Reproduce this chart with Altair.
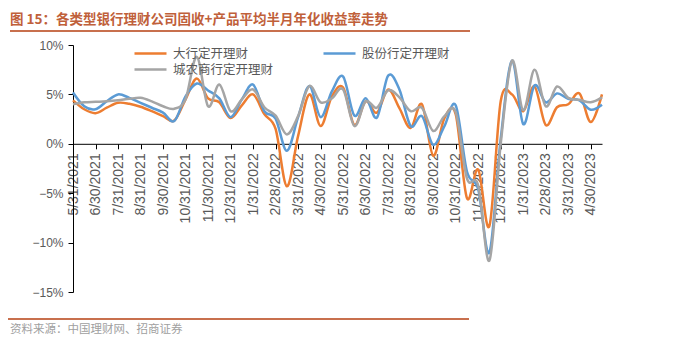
import json
import altair as alt
import pandas as pd

# ---------------- data ----------------
date_labels = [
    "5/31/2021", "6/30/2021", "7/31/2021", "8/31/2021", "9/30/2021", "10/31/2021",
    "11/30/2021", "12/31/2021", "1/31/2022", "2/28/2022", "3/31/2022", "4/30/2022",
    "5/31/2022", "6/30/2022", "7/31/2022", "8/31/2022", "9/30/2022", "10/31/2022",
    "11/30/2022", "12/31/2022", "1/31/2023", "2/28/2023", "3/31/2023", "4/30/2023",
]
series_names = ["大行定开理财", "股份行定开理财", "城农商行定开理财"]
series_colors = ["#ED7D31", "#5B9BD5", "#A5A5A5"]

# semi-monthly observations, % (first point = 5/31/2021)
big_banks = [
    4.4, 3.5, 3.1, 3.65, 4.15, 4.05, 3.75, 3.3, 2.8, 2.35,
    4.5, 6.6, 4.6, 4.2, 2.6, 3.9, 5.0, 3.0, 1.5, -4.3,
    0.8, 5.0, 1.8, 4.8, 5.7, 1.9, 4.3, 3.15, 5.5, 3.6,
    1.6, 4.0, -1.2, 2.6, 3.0, -5.5, -2.6, -8.3, 4.3, 5.0,
    3.3, 5.8, 1.9, 3.7, 4.0, 5.1, 2.2, 5.0,
]
joint_stock = [
    5.2, 3.8, 3.5, 4.3, 5.0, 4.65, 4.15, 3.65, 3.15, 2.3,
    4.8, 6.1, 5.4, 4.6, 2.7, 4.5, 6.0, 3.3, 2.55, -0.7,
    2.7, 5.85, 2.7, 5.3, 6.8, 2.85, 4.6, 2.65, 6.9, 5.5,
    1.8, 2.8, -0.1, 1.8, 3.9, -2.8, -4.6, -11.0, 0.5, 8.4,
    2.0, 5.9, 4.2, 5.1, 4.55, 4.4, 3.45, 3.95,
]
city_rural = [
    4.0, 4.2, 4.25, 4.3, 4.4, 4.55, 4.65, 4.3, 3.8, 3.55,
    4.5, 8.8, 3.8, 6.0, 3.3, 4.5, 5.5, 3.7, 2.85, 0.95,
    2.8, 5.85, 4.2, 4.6, 5.5, 1.8, 4.3, 3.65, 5.4, 4.7,
    3.3, 3.65, 1.3, 2.8, 3.2, -3.5, -4.2, -11.8, 0.0, 8.4,
    3.4, 7.5, 3.8, 5.8, 4.65, 4.45, 4.2, 4.7,
]
y_ticks = [-15, -10, -5, 0, 5, 10]

title_text = "图 15：各类型银行理财公司固收+产品平均半月年化收益率走势"
source_text = "资料来源：中国理财网、招商证券"

# ---------------- table ----------------
rows = []
for name, vals in zip(series_names, [big_banks, joint_stock, city_rural]):
    for i, v in enumerate(vals):
        rows.append({"idx": i, "series": name, "value": v})
df = pd.DataFrame(rows)

n_points = len(big_banks)
PLOT_W, PLOT_H = 529, 247
y_min, y_max = -15, 10
zero_from_bottom = PLOT_H * (0 - y_min) / (y_max - y_min)

label_array = json.dumps(date_labels, ensure_ascii=False)

AXIS_FONT = "Liberation Sans"
CJK_FONT = "Noto Sans CJK SC"
TEXT_GRAY = "#595959"
RED = "#C0603A"

lines = alt.Chart(df).mark_line(
    interpolate="cardinal", tension=0, strokeWidth=2.5
).encode(
    x=alt.X(
        "idx:Q",
        scale=alt.Scale(domain=[0, n_points - 1], nice=False, zero=False),
        axis=alt.Axis(
            values=list(range(0, 2 * len(date_labels), 2)),
            labelExpr=f"{label_array}[datum.value / 2]",
            labelAngle=270,
            labelAlign="right",
            labelBaseline="middle",
            labelFont=AXIS_FONT,
            labelFontSize=14,
            labelColor=TEXT_GRAY,
            labelPadding=4,
            offset=-zero_from_bottom,
            grid=False,
            title=None,
            domainColor="#000000",
            tickColor="#000000",
            tickSize=5,
            labelOverlap=False,
        ),
    ),
    y=alt.Y(
        "value:Q",
        scale=alt.Scale(domain=[y_min, y_max], nice=False),
        axis=alt.Axis(
            values=y_ticks,
            labelExpr="format(datum.value, 'd') + '%'",
            labelFont=AXIS_FONT,
            labelFontSize=12,
            labelColor=TEXT_GRAY,
            labelPadding=5,
            grid=False,
            title=None,
            domainColor="#000000",
            tickColor="#000000",
            tickSize=5,
        ),
    ),
    color=alt.Color(
        "series:N",
        sort=series_names,
        scale=alt.Scale(domain=series_names, range=series_colors),
        legend=alt.Legend(
            orient="none",
            legendX=60,
            legendY=1,
            direction="horizontal",
            columns=2,
            title=None,
            symbolType="stroke",
            symbolSize=1024,
            symbolStrokeWidth=2.5,
            clipHeight=15,
            labelFont=CJK_FONT,
            labelFontSize=12.5,
            labelColor=TEXT_GRAY,
            labelOffset=5,
            columnPadding=48,
            rowPadding=1,
            padding=0,
            labelLimit=0,
        ),
    ),
)

one = pd.DataFrame({"t": [title_text]})
title_mark = alt.Chart(one).mark_text(
    align="left", baseline="middle", font=CJK_FONT, fontSize=13.5,
    fontWeight="bold", color=RED
).encode(text="t:N", x=alt.value(-63), y=alt.value(-25))

rule_top = alt.Chart(one).mark_rule(color="#C8704E", strokeWidth=2).encode(
    x=alt.value(-63), x2=alt.value(397), y=alt.value(-14)
)
rule_bottom = alt.Chart(one).mark_rule(color="#C8704E", strokeWidth=2).encode(
    x=alt.value(-65), x2=alt.value(396), y=alt.value(274)
)
src = pd.DataFrame({"t": [source_text]})
source_mark = alt.Chart(src).mark_text(
    align="left", baseline="middle", font=CJK_FONT, fontSize=11.5, color="#A0A0A0"
).encode(text="t:N", x=alt.value(-63), y=alt.value(285))

chart = alt.layer(lines, title_mark, rule_top, rule_bottom, source_mark).properties(
    width=PLOT_W,
    height=PLOT_H,
    autosize=alt.AutoSizeParams(type="none"),
    padding={"left": 73, "top": 45, "right": 89, "bottom": 59},
    background="white",
).configure_view(stroke=None)

chart.save("out.html", embed_options={"renderer": "svg", "actions": False})
